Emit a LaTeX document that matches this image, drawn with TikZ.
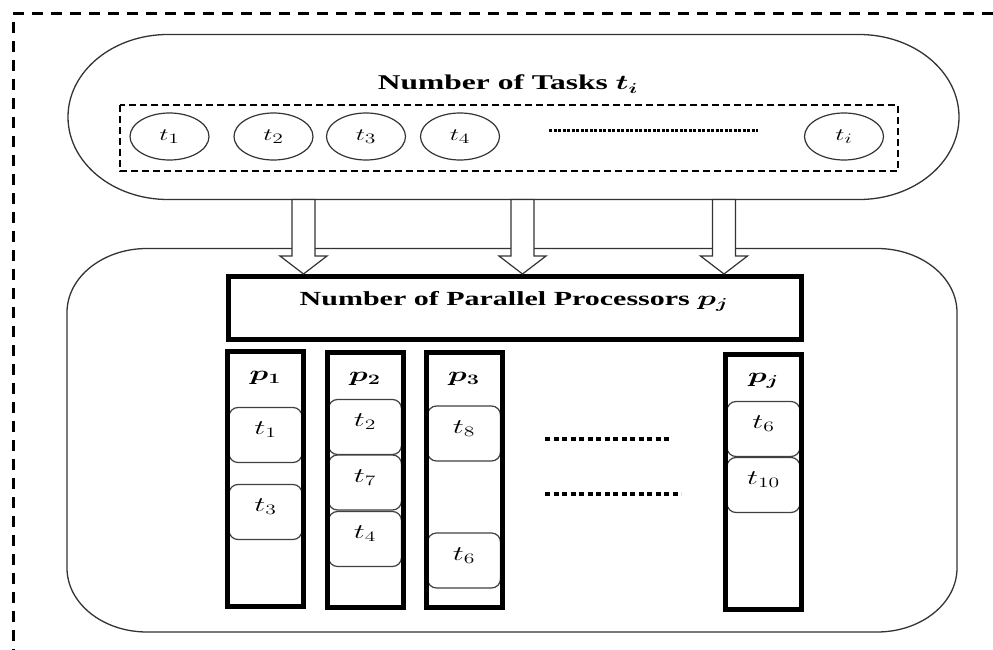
\documentclass[tikz,border=0pt]{standalone}
\usepackage{fontspec}
\setmainfont{Liberation Serif}
\usepackage{amsmath}
\usepackage{bm}
\usepackage{graphicx}
\usetikzlibrary{shapes.geometric}
% widen text horizontally
\newcommand{\hstretch}[1]{\scalebox{1.5}[1]{#1}}

\begin{document}
\begin{tikzpicture}[x=1pt,y=-1pt,
  frame/.style={line width=3pt, dash pattern=on 11pt off 8pt},
  shell/.style={line width=1.3pt, draw=black!80},
  pool/.style={line width=1.8pt, dash pattern=on 7pt off 4pt},
  taskring/.style={ellipse, draw=black!80, line width=1.2pt, minimum width=79pt,
    minimum height=47pt, inner sep=0pt, font=\fontsize{19}{21}\selectfont},
  dots/.style={line width=3.5pt, dash pattern=on 5pt off 3.5pt},
  blockarrow/.style={draw=black!80, line width=1.2pt, fill=white, line join=miter},
  procbox/.style={draw, line width=5pt, minimum width=573pt, minimum height=63pt,
    inner sep=0pt, outer sep=0pt},
  column/.style={minimum width=76pt, minimum height=255pt, inner sep=0pt, outer sep=0pt},
  colframe/.style={line width=5pt},
  taskbox/.style={draw=black!75, line width=1.2pt, rounded corners=9pt, fill=white,
    minimum width=73pt, minimum height=55pt, inner sep=0pt},
  heading/.style={anchor=base, inner sep=0pt},
  plabel/.style={inner sep=0pt, font=\fontsize{22}{24}\selectfont},
  tlabel/.style={inner sep=0pt, font=\fontsize{21}{23}\selectfont}]

\useasboundingbox (0,0) rectangle (993,650);
\clip (0,0) rectangle (993,650);

% outer dashed frame (runs past the right and bottom edges)
\draw[frame] (13,660) -- (13,14) -- (1010,14);

% task pool (top)
\draw[shell] (168,34.5) -- (859,34.5)
  arc[start angle=270, end angle=450, x radius=100, y radius=82.5]
  -- (168,199.5)
  arc[start angle=90, end angle=270, x radius=100, y radius=82.5] -- cycle;
\node[heading] (ttl) at (508,90)
  {\hstretch{\fontsize{21}{24}\selectfont\bfseries Number of Tasks $\bm{t_i}$}};
\draw[pool] (120,105) rectangle (898,171);
\node[taskring] (r1) at (169.5,136.5) {\hstretch{$t_1$}};
\node[taskring] (r2) at (273.5,136.5) {\hstretch{$t_2$}};
\node[taskring] (r3) at (366,136.5) {\hstretch{$t_3$}};
\node[taskring] (r4) at (460,136.5) {\hstretch{$t_4$}};
\node[taskring] (ri) at (844,136.5) {\hstretch{$t_i$}};
\draw[line width=3pt, dash pattern=on 3pt off 1.5pt] (549,131) -- (758,131);

% processor area (bottom)
\draw[shell] (147,248.5) -- (877,248.5)
  arc[start angle=270, end angle=360, x radius=80, y radius=64]
  -- (957,568)
  arc[start angle=0, end angle=90, x radius=80, y radius=64]
  -- (147,632)
  arc[start angle=90, end angle=180, x radius=80, y radius=64]
  -- (67,312.5)
  arc[start angle=180, end angle=270, x radius=80, y radius=64] -- cycle;

\node[procbox] (pp) at (514.5,307.5) {};
\node[heading] (pptl) at (514,305)
  {\hstretch{\fontsize{20}{22}\selectfont\bfseries Number of Parallel Processors $\bm{p_j}$}};

% hollow arrows from the task pool to the processors
\coordinate (a1) at (303.5,199.5);
\coordinate (a2) at (522.5,199.5);
\coordinate (a3) at (724,199.5);
\foreach \a in {a1,a2,a3}{
  \draw[blockarrow] (\a) ++(-11.5,0) -- ++(23,0) -- ++(0,56.5) -- ++(12,0)
    -- ++(-23.5,18) -- ++(-23.5,-18) -- ++(12,0) -- cycle;
}

% processor columns
\node[column] (c1) at (265.5,478.5) {};
\node[column] (c2) at (365,479.5) {};
\node[column] (c3) at (464,479.5) {};
\node[column] (cj) at (763.5,481.5) {};

% tasks assigned to each processor
\node[taskbox] (k11) at (c1 |- 0,435) {};
\node[taskbox] (k13) at (c1 |- 0,512) {};
\node[taskbox] (k22) at (c2 |- 0,427) {};
\node[taskbox] (k27) at (c2 |- 0,482.5) {};
\node[taskbox] (k24) at (c2 |- 0,539) {};
\node[taskbox] (k38) at (c3 |- 0,433.5) {};
\node[taskbox] (k36) at (c3 |- 0,560.5) {};
\node[taskbox] (kj6) at (cj |- 0,429) {};
\node[taskbox] (kj10) at (cj |- 0,485) {};

\foreach \c in {c1,c2,c3,cj}{
  \draw[colframe] (\c.south west) rectangle (\c.north east);
}

\path (c1.north) ++(0,27) node[plabel] {\hstretch{$\bm{p_1}$}};
\path (c2.north) ++(0,27) node[plabel] {\hstretch{$\bm{p_2}$}};
\path (c3.north) ++(0,27) node[plabel] {\hstretch{$\bm{p_3}$}};
\path (cj.north) ++(0,27) node[plabel] {\hstretch{$\bm{p_j}$}};

\path (k11.north) ++(0,23) node[tlabel] {\hstretch{$t_1$}};
\path (k13.north) ++(0,23) node[tlabel] {\hstretch{$t_3$}};
\path (k22.north) ++(0,23) node[tlabel] {\hstretch{$t_2$}};
\path (k27.north) ++(0,23) node[tlabel] {\hstretch{$t_7$}};
\path (k24.north) ++(0,23) node[tlabel] {\hstretch{$t_4$}};
\path (k38.north) ++(0,23) node[tlabel] {\hstretch{$t_8$}};
\path (k36.north) ++(0,23) node[tlabel] {\hstretch{$t_6$}};
\path (kj6.north) ++(0,23) node[tlabel] {\hstretch{$t_6$}};
\path (kj10.north) ++(0,23) node[tlabel] {\hstretch{$t_{10}$}};

% further processors
\draw[dots] (545,439) -- (671,439);
\draw[dots] (545,494) -- (681,494);
\end{tikzpicture}
\end{document}
